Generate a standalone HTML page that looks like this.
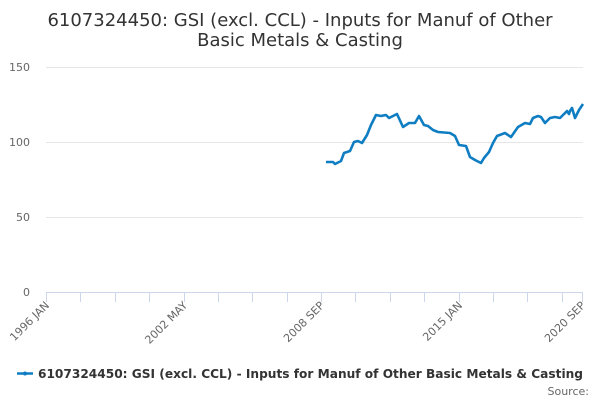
<!DOCTYPE html>
<html><head><meta charset="utf-8"><style>
body{margin:0;background:#fff;}
svg{display:block;font-family:"DejaVu Sans","Liberation Sans",sans-serif;}
</style></head><body>
<svg width="600" height="400" viewBox="0 0 600 400">
<text x="300" y="26" text-anchor="middle" font-size="18" fill="#333">6107324450: GSI (excl. CCL) - Inputs for Manuf of Other</text>
<text x="300" y="46" text-anchor="middle" font-size="18" fill="#333">Basic Metals &amp; Casting</text>
<g stroke="#e6e6e6" stroke-width="1">
<line x1="46" x2="583" y1="67.5" y2="67.5"/>
<line x1="46" x2="583" y1="142.5" y2="142.5"/>
<line x1="46" x2="583" y1="217.5" y2="217.5"/>
</g>
<line x1="46" x2="583" y1="292.5" y2="292.5" stroke="#ccd6eb"/>
<g stroke="#ccd6eb">
<line x1="46.5" x2="46.5" y1="292" y2="302"/><line x1="80.5" x2="80.5" y1="292" y2="302"/><line x1="115.5" x2="115.5" y1="292" y2="302"/><line x1="149.5" x2="149.5" y1="292" y2="302"/><line x1="184.5" x2="184.5" y1="292" y2="302"/><line x1="218.5" x2="218.5" y1="292" y2="302"/><line x1="252.5" x2="252.5" y1="292" y2="302"/><line x1="287.5" x2="287.5" y1="292" y2="302"/><line x1="321.5" x2="321.5" y1="292" y2="302"/><line x1="355.5" x2="355.5" y1="292" y2="302"/><line x1="390.5" x2="390.5" y1="292" y2="302"/><line x1="424.5" x2="424.5" y1="292" y2="302"/><line x1="459.5" x2="459.5" y1="292" y2="302"/><line x1="493.5" x2="493.5" y1="292" y2="302"/><line x1="527.5" x2="527.5" y1="292" y2="302"/><line x1="562.5" x2="562.5" y1="292" y2="302"/><line x1="582.5" x2="582.5" y1="292" y2="302"/>
</g>
<g font-size="11" fill="#666" text-anchor="end">
<text x="30" y="71">150</text><text x="30" y="146">100</text><text x="30" y="221">50</text><text x="30" y="296">0</text>
</g>
<g font-size="11" fill="#666" text-anchor="end">
<text transform="translate(50,306) rotate(-45)">1996 JAN</text>
<text transform="translate(188,306) rotate(-45)">2002 MAY</text>
<text transform="translate(325,306) rotate(-45)">2008 SEP</text>
<text transform="translate(463,306) rotate(-45)">2015 JAN</text>
<text transform="translate(586,306) rotate(-45)">2020 SEP</text>
</g>
<polyline fill="none" stroke="#0f7dc2" stroke-width="2.6" stroke-linejoin="round" points="326,162 333,162 335,164 341,161 344,153 350,151 354,142 358,141 362,143 367,135 371,125 376,115 381,116 386,115 389,118 397,114 403,127 409,123 415,123 419,116 424,125 428,126 433,130 438,132 450,133 455,136 459,145 466,146 470,157 475,160 481,163 484,158 489,152 493,143 497,136 505,133 511,137 518,127 525,123 530,124 533,118 538,116 541,117 545,123 550,118 555,117 560,118 567,111 569,114 570,111 572,108 575,118 579,110 583,104"/>
<line x1="17" x2="33" y1="373.5" y2="373.5" stroke="#0f7dc2" stroke-width="2.5"/>
<circle cx="25" cy="373.5" r="2" fill="#0f7dc2"/>
<text x="38" y="378" font-size="12" font-weight="bold" fill="#333" textLength="545" lengthAdjust="spacingAndGlyphs">6107324450: GSI (excl. CCL) - Inputs for Manuf of Other Basic Metals &amp; Casting</text>
<text x="589" y="395" font-size="11" fill="#666" text-anchor="end">Source:</text>
</svg>
</body></html>
